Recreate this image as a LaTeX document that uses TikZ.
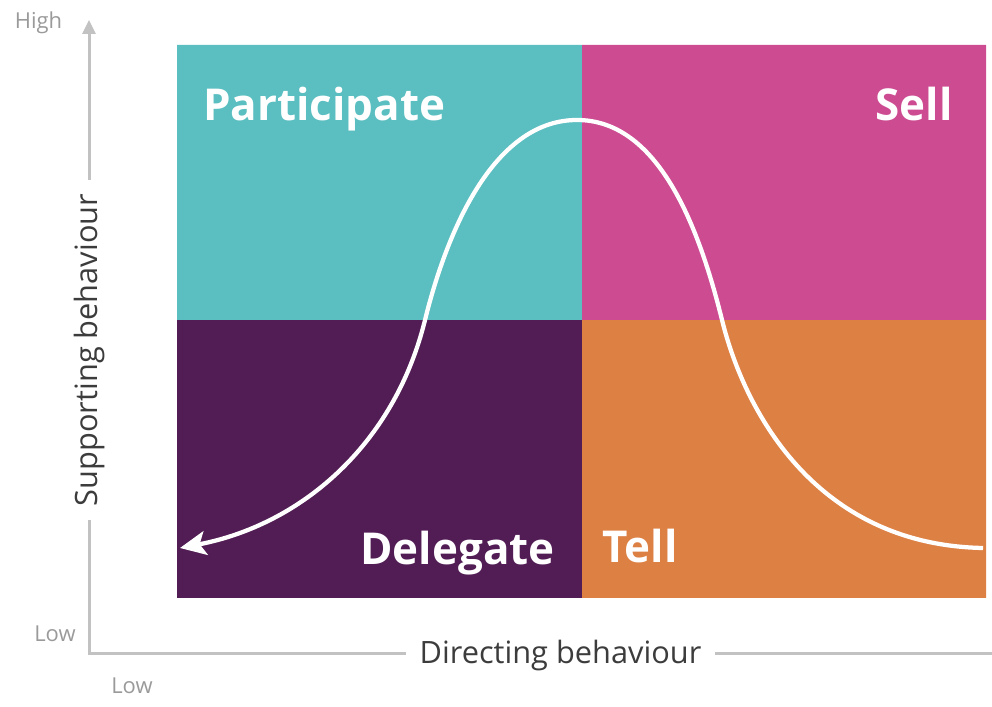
\documentclass[tikz,border=0pt]{standalone}
\usepackage{fontspec}
\setmainfont{Open Sans}
\usepackage{tkz-euclide}
\usetikzlibrary{arrows.meta}
\definecolor{qteal}{HTML}{5BBEC1}
\definecolor{qpink}{HTML}{CC4B91}
\definecolor{qplum}{HTML}{511D54}
\definecolor{qorange}{HTML}{DD8044}
\definecolor{axisgray}{HTML}{C2C2C2}
\definecolor{lowgray}{HTML}{9A9A9A}
\definecolor{labelgray}{HTML}{3C3C3C}

\begin{document}
\begin{tikzpicture}[scale=1.00,
		quadtext/.style={text=white,font=\fontsize{25}{30}\selectfont\bfseries,inner sep=0pt},
		axistext/.style={text=labelgray,fill=white,inner xsep=0.28cm,inner ysep=1pt,font=\fontsize{17.5}{21}\selectfont},
		endtext/.style={text=lowgray,inner sep=0pt,font=\fontsize{12.5}{15}\selectfont}]
		\tkzInit
		\tkzDefPoint(0,0){O} % 画布
		\tkzDefPoint(19.84,14.12){Z}
		\path[use as bounding box] (O) rectangle (Z);
		% 四个象限
		\tkzDefPoint(3.54,2.16){A}
		\tkzDefPoint(11.64,2.16){B}
		\tkzDefPoint(19.72,2.16){C}
		\tkzDefPoint(3.54,7.72){D}
		\tkzDefPoint(11.64,7.72){E}
		\tkzDefPoint(19.72,7.72){F}
		\tkzDefPoint(3.54,13.22){G}
		\tkzDefPoint(11.64,13.22){H}
		\tkzDefPoint(19.72,13.22){K}
		\tkzFillPolygon[qplum](A,B,E,D)
		\tkzFillPolygon[qorange](B,C,F,E)
		\tkzFillPolygon[qteal](D,E,H,G)
		\tkzFillPolygon[qpink](E,F,K,H)
		% 坐标轴
		\tkzDefPoint(1.78,1.06){S}
		\tkzDefPoint(19.84,1.06){X}
		\tkzDefPoint(1.78,13.72){Y}
		\draw[axisgray,line width=0.06cm,-{Triangle[length=0.28cm,width=0.26cm]}] (X) -- (S) -- (Y);
		\node[axistext] (dir) at (11.21,1.0) {Directing behaviour};
		\node[axistext,rotate=90] (sup) at (1.80,7.12) {Supporting behaviour};
		\node[endtext] (high) at (0.77,13.66) {High};
		\node[endtext] (lowy) at (1.1,1.44) {Low};
		\node[endtext] (lowx) at (2.64,0.40) {Low};
		% 曲线
		\tkzDefPoint(19.66,3.16){R0} % 起点
		\tkzDefPoint(14.44,7.72){R1} % 拐点
		\tkzDefPoint(11.54,11.72){P} % 顶点
		\tkzDefPoint(8.50,7.72){L1} % 拐点
		\tkzDefPoint(3.60,3.16){T} % 箭头
		\draw[white,line width=0.085cm,-{Stealth[length=0.52cm,width=0.48cm,inset=0.12cm]}]
			(R0) .. controls (16.40,3.22) and (14.92,5.78) .. (R1)
			.. controls (13.96,9.66) and (13.14,11.72) .. (P)
			.. controls (9.94,11.72) and (8.98,9.66) .. (L1)
			.. controls (7.88,5.20) and (6.00,3.62) .. (T);
		% 标签
		\node[quadtext,anchor=base west] (part) at (4.06,11.7) {Participate};
		\node[quadtext,anchor=base east] (sell) at (19.06,11.7) {Sell};
		\node[quadtext,anchor=base east] (dele) at (11.1,2.82) {Delegate};
		\node[quadtext,anchor=base west] (tell) at (12.04,2.86) {Tell};
	\end{tikzpicture}
\end{document}
